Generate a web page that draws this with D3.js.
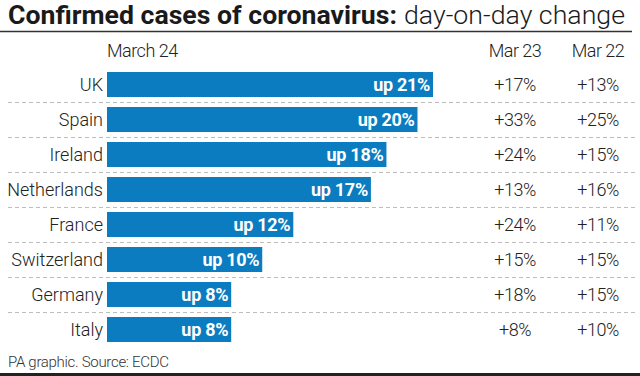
<!DOCTYPE html>
<html>
<head>
<meta charset="utf-8">
<script src="https://cdn.jsdelivr.net/npm/d3@7"></script>
<style>
  body { margin: 0; background: #fff; }
  svg { display: block; font-family: Roboto, "Liberation Sans", sans-serif; }
</style>
</head>
<body>
<svg id="chart"></svg>
<script>
var countries = ["UK", "Spain", "Ireland", "Netherlands", "France", "Switzerland", "Germany", "Italy"];
var mar24 = [21, 20, 18, 17, 12, 10, 8, 8];
var mar23 = [17, 33, 24, 13, 24, 15, 18, 8];
var mar22 = [13, 25, 15, 16, 11, 15, 15, 10];
var columns = ["March 24", "Mar 23", "Mar 22"];

var width = 640, height = 376;

var svg = d3.select("#chart")
  .attr("width", width)
  .attr("height", height);

svg.append("rect").attr("width", width).attr("height", height).attr("fill", "#fff");

// title
svg.append("text")
  .attr("x", 8).attr("y", 24)
  .attr("font-size", 25).attr("font-weight", 700)
  .attr("fill", "#1a1a1a")
  .attr("textLength", 389).attr("lengthAdjust", "spacingAndGlyphs")
  .text("Confirmed cases of coronavirus:");
svg.append("text")
  .attr("x", 404).attr("y", 24)
  .attr("font-size", 25).attr("font-weight", 300)
  .attr("fill", "#1a1a1a")
  .attr("textLength", 221).attr("lengthAdjust", "spacingAndGlyphs")
  .text("day-on-day change");

svg.append("line")
  .attr("x1", 0).attr("x2", 632)
  .attr("y1", 31.5).attr("y2", 31.5)
  .attr("stroke", "#333").attr("stroke-width", 1.5);

// scales
var y = d3.scaleBand()
  .domain(countries)
  .range([67, 347])
  .paddingInner(10 / 35)
  .paddingOuter(5 / 35);

var x = d3.scaleLinear()
  .domain([0, 21])
  .range([107, 433]);

var col23 = 515, col22 = 598;

// column headers
var head = svg.append("g")
  .attr("font-size", 18).attr("font-weight", 300).attr("fill", "#222")
  .attr("letter-spacing", -0.5);
head.append("text")
  .attr("x", x(0)).attr("y", 57)
  .text(columns[0]);
head.append("text")
  .attr("x", col23).attr("y", 57).attr("text-anchor", "middle")
  .text(columns[1]);
head.append("text")
  .attr("x", col22).attr("y", 57).attr("text-anchor", "middle")
  .text(columns[2]);

// dashed separators between rows
svg.selectAll(".sep")
  .data(countries.slice(0, -1))
  .enter()
  .append("line")
  .attr("class", "sep")
  .attr("x1", 8).attr("x2", 638)
  .attr("y1", function (d) { return y(d) + y.bandwidth() + 5.5; })
  .attr("y2", function (d) { return y(d) + y.bandwidth() + 5.5; })
  .attr("stroke", "#bdbdbd")
  .attr("stroke-width", 1)
  .attr("stroke-dasharray", "4,3");

var rows = svg.selectAll(".row")
  .data(countries)
  .enter()
  .append("g")
  .attr("class", "row");

rows.append("rect")
  .attr("x", x(0))
  .attr("y", function (d) { return y(d); })
  .attr("width", function (d, i) { return x(mar24[i]) - x(0); })
  .attr("height", y.bandwidth())
  .attr("fill", "#0a7cbf");

rows.append("text")
  .attr("x", x(0) - 4)
  .attr("y", function (d) { return y(d) + 19; })
  .attr("text-anchor", "end")
  .attr("font-size", 18).attr("font-weight", 300).attr("fill", "#222")
  .text(function (d) { return d; });

rows.append("text")
  .attr("x", function (d, i) { return x(mar24[i]) - 3; })
  .attr("y", function (d) { return y(d) + 19; })
  .attr("text-anchor", "end")
  .attr("font-size", 18).attr("font-weight", 700).attr("fill", "#fff")
  .attr("letter-spacing", -0.3)
  .text(function (d, i) { return "up " + mar24[i] + "%"; });

rows.append("text")
  .attr("x", col23)
  .attr("y", function (d) { return y(d) + 19; })
  .attr("text-anchor", "middle")
  .attr("font-size", 18).attr("font-weight", 300).attr("fill", "#222")
  .attr("letter-spacing", -0.5)
  .text(function (d, i) { return "+" + mar23[i] + "%"; });

rows.append("text")
  .attr("x", col22)
  .attr("y", function (d) { return y(d) + 19; })
  .attr("text-anchor", "middle")
  .attr("font-size", 18).attr("font-weight", 300).attr("fill", "#222")
  .attr("letter-spacing", -0.5)
  .text(function (d, i) { return "+" + mar22[i] + "%"; });

// footer
svg.append("text")
  .attr("x", 8).attr("y", 367)
  .attr("font-size", 15).attr("font-weight", 300).attr("fill", "#333")
  .attr("letter-spacing", -0.3)
  .text("PA graphic. Source: ECDC");

svg.append("rect")
  .attr("x", 0).attr("y", 373)
  .attr("width", width).attr("height", 3)
  .attr("fill", "#222");
</script>
</body>
</html>
